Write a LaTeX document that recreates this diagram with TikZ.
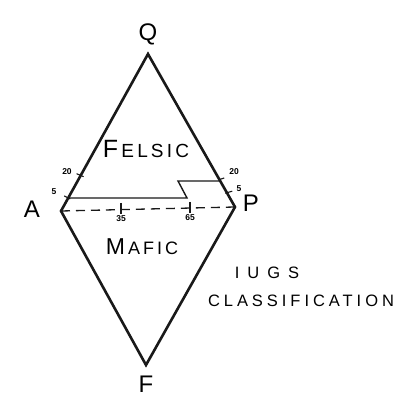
\documentclass[tikz,border=0pt]{standalone}
\usepackage{fontspec}
\setmainfont{Liberation Sans}
\newfontfamily\spaced[LetterSpace=24]{Liberation Sans}
\newfontfamily\wide[LetterSpace=48]{Liberation Sans}
\usetikzlibrary{calc}
\begin{document}
\begin{tikzpicture}[x=1pt,y=-1pt,
  edge/.style={line width=2.6pt, line join=miter, black!90},
  divide/.style={line width=1.4pt, black!90},
  dashline/.style={line width=1.3pt, dash pattern=on 9pt off 6pt, black!90},
  tickmark/.style={line width=1.1pt, black!90},
  vlabel/.style={font=\fontsize{24}{24}\selectfont, inner sep=0pt},
  small/.style={font=\fontsize{8.5}{8.5}\selectfont\bfseries, inner sep=0pt},
  field/.style={inner sep=0pt},
  caption/.style={font=\spaced\fontsize{16.5}{16.5}\selectfont, inner sep=0pt}]
\fill[white] (0,0) rectangle (404,398);
\useasboundingbox (0,0) rectangle (404,398);
% vertices
\coordinate (Q) at (148,54);
\coordinate (P) at (235,207);
\coordinate (F) at (146,365);
\coordinate (A) at (61,211);
\draw[edge] (Q) -- (P) -- (F) -- (A) -- cycle;
% labels of vertices
\node[vlabel] (lq) at (148,34) {Q};
\node[vlabel] (lf) at (146,384) {F};
\node[vlabel] (la) at (32,209) {A};
\node[vlabel] (lp) at (251,203) {P};
% points on edges
\coordinate (L20) at ($(A)!0.225!(Q)$);
\coordinate (L5) at ($(A)!0.083!(Q)$);
\coordinate (R20) at ($(P)!0.17!(Q)$);
\coordinate (R5) at ($(P)!0.09!(Q)$);
\coordinate (s1) at (187,198);
\coordinate (s2) at (178,181);
% solid dividing line
\draw[divide] (L5) -- (s1) -- (s2) -- (R20);
% dashed line
\draw[dashline] (A) -- (P);
% ticks on edges
\draw[tickmark] ($(L20)+(-4,-2)$) -- ($(L20)+(3,1)$);
\draw[tickmark] ($(L5)+(-4,-2)$) -- ($(L5)+(2,1)$);
\draw[tickmark] ($(R20)+(-2,-1)$) -- ($(R20)+(4,-3)$);
\draw[tickmark] ($(R5)+(-2,0)$) -- ($(R5)+(5,-2)$);
\node[small] (t20l) at (67,172) {20};
\node[small] (t5l) at (54,192) {5};
\node[small] (t20r) at (234,172) {20};
\node[small] (t5r) at (239,189) {5};
% ticks on dashed line
\coordinate (d35) at (121,209);
\coordinate (d65) at (190,208);
\draw[tickmark] ($(d35)+(0,-6)$) -- ($(d35)+(0,5)$);
\draw[tickmark] ($(d65)+(0,-6)$) -- ($(d65)+(0,5)$);
\node[small] (n35) at (121,219) {35};
\node[small] (n65) at (190,218) {65};
% fields
\node[field] (fel) at (146,149) {\fontsize{25}{25}\selectfont F\fontsize{19}{19}\selectfont\,E\,L\,S\,I\,C};
\node[field] (maf) at (142,247) {\fontsize{23}{23}\selectfont M\fontsize{18}{18}\selectfont\,A\,F\,I\,C};
% caption
\node[caption, font=\wide\fontsize{16.5}{16.5}\selectfont] (iugs) at (267,273) {IUGS};
\node[caption] (cls) at (301,301) {CLASSIFICATION};
\end{tikzpicture}
\end{document}
